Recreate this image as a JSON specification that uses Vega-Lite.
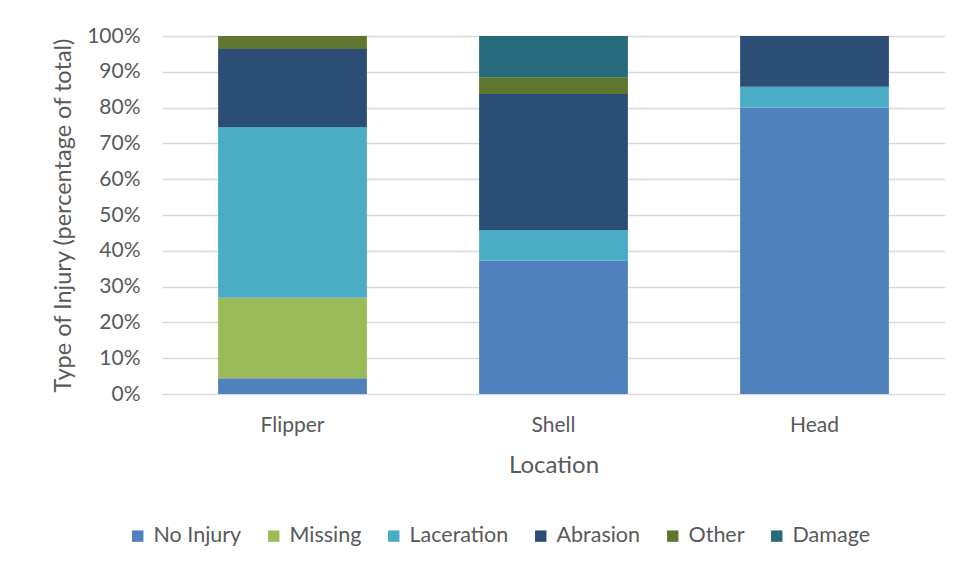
{
  "$schema": "https://vega.github.io/schema/vega-lite/v6.json",
  "autosize": "none",
  "width": 783,
  "height": 358,
  "padding": {"left": 162, "top": 36, "right": 29, "bottom": 175},
  "background": "white",
  "data": {
    "values": [
      {"location": "Flipper", "injury": "No Injury", "pct": 4.4},
      {"location": "Flipper", "injury": "Missing", "pct": 22.5},
      {"location": "Flipper", "injury": "Laceration", "pct": 47.7},
      {"location": "Flipper", "injury": "Abrasion", "pct": 21.8},
      {"location": "Flipper", "injury": "Other", "pct": 3.6},
      {"location": "Shell", "injury": "No Injury", "pct": 37.2},
      {"location": "Shell", "injury": "Laceration", "pct": 8.6},
      {"location": "Shell", "injury": "Abrasion", "pct": 38.0},
      {"location": "Shell", "injury": "Other", "pct": 4.7},
      {"location": "Shell", "injury": "Damage", "pct": 11.5},
      {"location": "Head", "injury": "No Injury", "pct": 80.0},
      {"location": "Head", "injury": "Laceration", "pct": 5.8},
      {"location": "Head", "injury": "Abrasion", "pct": 14.2}
    ]
  },
  "transform": [
    {"calculate": "indexof(['No Injury','Missing','Laceration','Abrasion','Other','Damage'], datum.injury)", "as": "stackOrder"}
  ],
  "mark": {"type": "bar"},
  "encoding": {
    "x": {
      "field": "location",
      "type": "nominal",
      "sort": ["Flipper", "Shell", "Head"],
      "scale": {"paddingInner": 0.43, "paddingOuter": 0.215},
      "axis": {
        "title": "Location",
        "labelAngle": 0,
        "labelFont": "Lato",
        "labelFontSize": 21,
        "labelColor": "#595959",
        "labelPadding": 20,
        "ticks": false,
        "domain": false,
        "titleFont": "Lato",
        "titleFontSize": 24,
        "titleFontWeight": "normal",
        "titleColor": "#595959",
        "titlePadding": 18
      }
    },
    "y": {
      "field": "pct",
      "type": "quantitative",
      "stack": "normalize",
      "scale": {"domain": [0, 1]},
      "axis": {
        "title": "Type of Injury (percentage of total)",
        "format": ".0%",
        "values": [0, 0.1, 0.2, 0.3, 0.4, 0.5, 0.6, 0.7, 0.8, 0.9, 1],
        "labelFont": "Lato",
        "labelFontSize": 21,
        "labelColor": "#595959",
        "labelPadding": 22,
        "ticks": false,
        "domain": false,
        "grid": true,
        "gridColor": "#d9d9d9",
        "gridWidth": 1.3,
        "titleFont": "Lato",
        "titleFontSize": 23.5,
        "titleFontWeight": "normal",
        "titleColor": "#595959",
        "titlePadding": 11
      }
    },
    "order": {"field": "stackOrder", "type": "quantitative", "sort": "ascending"},
    "color": {
      "field": "injury",
      "type": "nominal",
      "sort": ["No Injury", "Missing", "Laceration", "Abrasion", "Other", "Damage"],
      "scale": {
        "domain": ["No Injury", "Missing", "Laceration", "Abrasion", "Other", "Damage"],
        "range": ["#4f81bd", "#9bbb59", "#4bacc6", "#2c4d75", "#5f7530", "#276a7c"]
      },
      "legend": {
        "title": null,
        "orient": "none",
        "direction": "horizontal",
        "legendX": -35,
        "legendY": 489,
        "columns": 6,
        "symbolType": "square",
        "symbolSize": 130,
        "symbolStrokeWidth": 0,
        "labelFont": "Lato",
        "labelFontSize": 21.5,
        "labelColor": "#595959",
        "labelOffset": 5,
        "columnPadding": 21,
        "labelLimit": 300
      }
    }
  },
  "config": {
    "view": {"stroke": null}
  }
}
